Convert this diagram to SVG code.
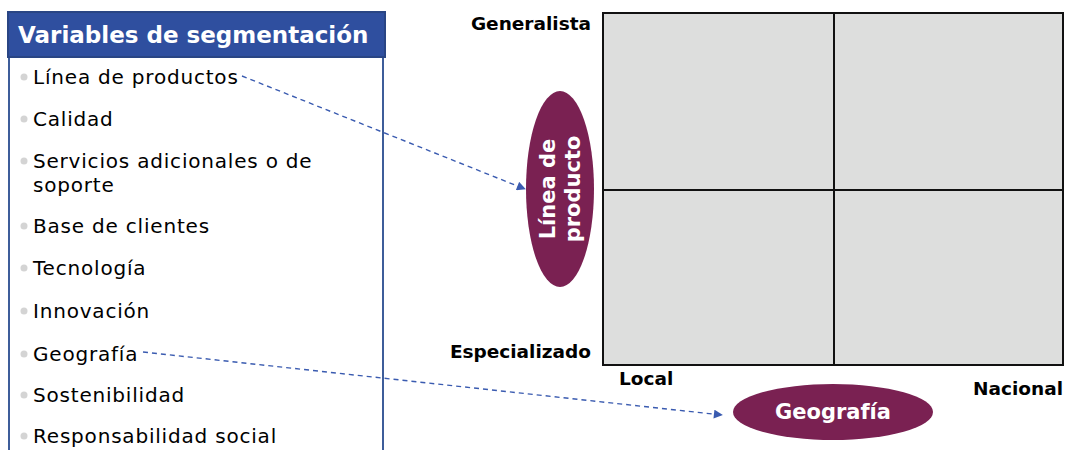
<svg xmlns="http://www.w3.org/2000/svg" width="1065" height="450" viewBox="0 0 1065 450">
<style>
.item{font-family:"DejaVu Sans",Verdana,sans-serif;font-size:20px;letter-spacing:0.8px;fill:#000}
.bul{fill:#d4d4d4}
.axis{font-family:"DejaVu Sans",Verdana,sans-serif;font-size:18.5px;font-weight:bold;fill:#000}
.ell{fill:#7a2152}
.elltxt{font-family:"DejaVu Sans",Verdana,sans-serif;font-size:21px;font-weight:bold;fill:#fff;text-anchor:middle}
.conn{fill:none;stroke:#3a5bb0;stroke-width:1.4;stroke-dasharray:5 4}
.cell{fill:#dddedd;stroke:#111;stroke-width:2}
</style>
<defs>
<marker id="ah" viewBox="0 0 10 10" refX="9" refY="5" markerWidth="10" markerHeight="9" markerUnits="userSpaceOnUse" orient="auto">
<path d="M0,0 L10,5 L0,10 z" fill="#3a5bb0"/>
</marker>
</defs>
<rect width="1065" height="450" fill="#fff"/>
<g id="panel">
<path d="M9,57 V452 M383,57 V452" stroke="#3d5d9a" stroke-width="2" fill="none"/>
<rect x="8" y="12" width="377" height="45" fill="#2f4f9f" stroke="#294584" stroke-width="2"/>
<text x="18" y="43" font-family="DejaVu Sans,Verdana,sans-serif" font-size="23" font-weight="bold" fill="#fff">Variables de segmentación</text>
</g>
<g id="items">
<circle class="bul" cx="24" cy="77" r="3.5"/><text class="item" x="33" y="84">Línea de productos</text>
<circle class="bul" cx="24" cy="119" r="3.5"/><text class="item" x="33" y="126">Calidad</text>
<circle class="bul" cx="24" cy="161" r="3.5"/><text class="item" x="33" y="168">Servicios adicionales o de</text>
<text class="item" x="33" y="192">soporte</text>
<circle class="bul" cx="24" cy="226" r="3.5"/><text class="item" x="33" y="233">Base de clientes</text>
<circle class="bul" cx="24" cy="268" r="3.5"/><text class="item" x="33" y="275">Tecnología</text>
<circle class="bul" cx="24" cy="311" r="3.5"/><text class="item" x="33" y="318">Innovación</text>
<circle class="bul" cx="24" cy="354" r="3.5"/><text class="item" x="33" y="361">Geografía</text>
<circle class="bul" cx="24" cy="395" r="3.5"/><text class="item" x="33" y="402">Sostenibilidad</text>
<circle class="bul" cx="24" cy="436" r="3.5"/><text class="item" x="33" y="443">Responsabilidad social</text>
</g>
<g id="matrix">
<rect class="cell" x="603" y="13" width="231" height="177"/>
<rect class="cell" x="834" y="13" width="229" height="177"/>
<rect class="cell" x="603" y="190" width="231" height="175"/>
<rect class="cell" x="834" y="190" width="229" height="175"/>
</g>
<g id="axis-labels">
<text class="axis" x="591" y="30" text-anchor="end">Generalista</text>
<text class="axis" x="591" y="358" text-anchor="end">Especializado</text>
<text class="axis" x="619" y="385">Local</text>
<text class="axis" x="1063" y="395" text-anchor="end">Nacional</text>
</g>
<g id="linea-producto">
<ellipse class="ell" cx="560" cy="189" rx="34" ry="98"/>
<text class="elltxt" transform="translate(555,189) rotate(-90)">Línea de</text>
<text class="elltxt" transform="translate(580,189) rotate(-90)">producto</text>
</g>
<g id="geografia">
<ellipse class="ell" cx="833" cy="412" rx="100" ry="28"/>
<text class="elltxt" x="833" y="419">Geografía</text>
</g>
<g id="connectors">
<line class="conn" x1="242" y1="76" x2="525" y2="189" marker-end="url(#ah)"/>
<line class="conn" x1="143" y1="352" x2="722" y2="415" marker-end="url(#ah)"/>
</g>
</svg>
